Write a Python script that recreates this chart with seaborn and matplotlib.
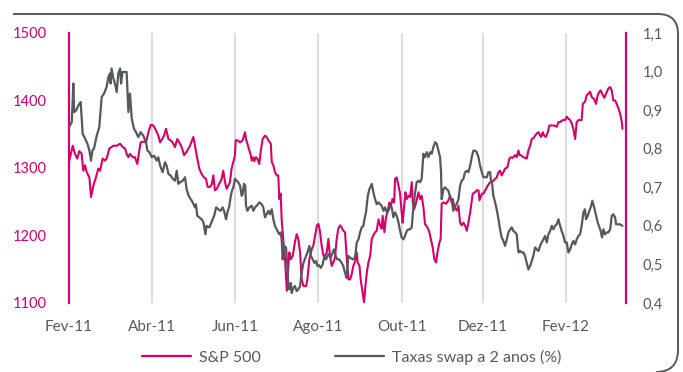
import matplotlib
matplotlib.use("Agg")
import matplotlib.pyplot as plt
from matplotlib.path import Path
from matplotlib.patches import PathPatch
from matplotlib.lines import Line2D
import pandas as pd
import seaborn as sns

# S&P 500 index, by trading session counted from the end of February 2011
spx_session = [
    0, 1.9, 3.0, 4.2, 5.2, 6.4, 7.2, 8.1, 8.9, 10.3, 11.1, 12.3, 13.6, 14.8, 15.7, 17.0,
    18.2, 19.0, 20.4, 21.5, 22.4, 24.1, 25.8, 27.1, 28.3, 29.1, 30.0, 30.8, 32.2, 33.3,
    34.5, 35.5, 36.2, 37.5, 38.9, 40.1, 41.3, 42.6, 43.9, 45.1, 46.0, 47.1, 48.0, 49.0,
    50.2, 51.4, 52.7, 53.5, 54.7, 55.7, 56.9, 58.1, 59.4, 61.1, 62.8, 63.6, 64.8, 65.8,
    67.0, 68.2, 69.2, 70.0, 71.2,
    72.1, 72.9, 73.7, 74.6, 75.4, 76.3, 77.1, 77.9, 78.8, 79.6, 80.5, 81.3, 82.1, 83.0,
    83.8, 84.2, 85.2, 86.4, 87.7, 88.9, 89.4, 90.1, 91.1, 91.8, 92.3, 93.1, 93.6, 94.4,
    95.1, 96.1, 96.8, 97.8, 99.0, 99.8, 100.7, 101.9, 102.4, 103.2, 104.0, 104.9, 105.7,
    106.2, 106.9, 107.4, 108.3, 109.1, 110.0, 110.8, 111.3, 112.0, 113.0, 114.1, 115.0,
    115.8, 116.7, 117.5, 118.4, 119.7, 120.4, 121.4, 122.6, 123.4, 124.3, 125.2, 126.0,
    126.8, 127.6, 128.5, 129.3, 130.2, 131.0, 131.8, 132.7, 133.5, 134.3, 135.2, 136.0,
    136.9, 137.7, 138.5, 139.4, 140.2, 141.1,
    142.0, 142.8, 143.6, 144.5, 145.3, 145.8, 146.7, 147.3, 148.3, 149.0, 149.7, 150.4,
    151.2, 152.1, 152.9, 153.7, 154.6, 155.4, 156.3, 157.1, 157.9, 158.4, 159.3, 160.1,
    160.8, 161.8, 162.5, 163.3, 164.2, 164.7, 165.5, 166.4, 167.2, 168.0, 168.5, 169.2,
    169.9, 170.6, 171.4, 172.3, 173.1, 173.6, 174.3, 175.3, 176.5, 177.3, 178.1, 179.0,
    179.8, 181.0, 182.0, 182.7, 183.7, 184.5, 185.4, 186.1, 187.1, 187.7, 188.2, 189.1,
    190.4, 191.6, 192.5, 193.3, 193.8, 194.5, 195.8, 196.7, 197.5, 198.3, 199.2, 200.0,
    200.9, 201.7, 202.6, 203.9, 205.1, 205.9, 206.8, 207.3, 208.5, 209.3, 210.6, 211.5,
    212.7,
    213.5, 214.3, 215.2, 216.0, 216.9, 217.7, 218.5, 219.4, 220.2, 221.4, 222.4, 223.3,
    224.1, 225.3, 226.1, 227.0, 227.5, 228.1, 229.5, 230.3, 231.2, 232.0, 232.9, 233.7,
    234.5, 235.4, 236.2, 237.1, 237.9, 238.4, 239.3, 239.9, 240.8, 241.8, 242.6, 243.8,
    245.0, 246.3, 247.2, 248.0, 249.4, 250.5, 251.4, 252.2, 253.1, 253.9, 254.7, 255.6,
    256.4, 257.3, 258.9, 259.5, 260.6, 261.5, 262.3, 263.2, 264.0, 265.2, 266.2, 267.0,
    267.9, 268.5, 269.6, 270.4, 271.2, 272.4, 273.3, 274.1, 274.9, 275.8, 276.6, 277.5,
    278.3, 279.2, 279.5,
]
spx_value = [
    1309, 1333, 1321, 1314, 1325, 1321, 1296, 1304, 1294, 1286, 1257, 1274, 1286, 1299, 1296, 1314,
    1311, 1314, 1329, 1331, 1333, 1333, 1336, 1331, 1329, 1321, 1316, 1321, 1316, 1316,
    1306, 1326, 1338, 1339, 1338, 1353, 1364, 1363, 1356, 1348, 1338, 1343, 1348, 1358,
    1343, 1341, 1336, 1331, 1343, 1338, 1331, 1319, 1324, 1333, 1346, 1333, 1314, 1299,
    1291, 1286, 1284, 1272, 1272,
    1276, 1289, 1267, 1269, 1274, 1279, 1284, 1296, 1279, 1269, 1274, 1279, 1299, 1309,
    1319, 1341, 1341, 1338, 1341, 1353, 1343, 1336, 1326, 1319, 1311, 1316, 1310, 1316,
    1314, 1306, 1324, 1343, 1348, 1346, 1341, 1336, 1309, 1304, 1294, 1289, 1289,
    1254, 1262, 1224, 1190, 1165, 1118, 1155, 1175, 1165, 1170, 1190, 1202,
    1195, 1175, 1135, 1125, 1125, 1135, 1165, 1180, 1185, 1200, 1215, 1217,
    1205, 1185, 1170, 1170, 1175, 1195, 1170, 1155, 1160, 1167, 1195, 1210,
    1215, 1212, 1207, 1205, 1170, 1135,
    1135, 1143, 1155, 1162, 1175, 1160, 1155, 1135, 1115, 1101, 1125, 1145,
    1160, 1170, 1195, 1200, 1205, 1207, 1224, 1215, 1210, 1229, 1205, 1227,
    1234, 1249, 1242, 1254, 1249, 1284, 1286, 1274, 1262, 1234, 1219, 1242,
    1264, 1254, 1259, 1257, 1279, 1249, 1239, 1249, 1264, 1254, 1259, 1242,
    1217, 1212, 1205, 1195, 1182, 1165, 1160, 1175, 1190, 1195, 1247, 1249,
    1247, 1252, 1259, 1249, 1254, 1244, 1237, 1244, 1219, 1215, 1219, 1215,
    1207, 1219, 1234, 1262, 1264, 1267, 1267, 1252, 1262, 1262, 1269, 1274,
    1279,
    1280, 1281, 1284, 1286, 1294, 1296, 1289, 1294, 1299, 1301, 1314, 1316,
    1315, 1319, 1316, 1326, 1319, 1319, 1316, 1315, 1314, 1326, 1333, 1343,
    1344, 1348, 1351, 1353, 1348, 1346, 1353, 1348, 1346, 1353, 1363, 1363,
    1363, 1361, 1368, 1368, 1371, 1371, 1376, 1373, 1371, 1366, 1358, 1343,
    1368, 1371, 1371, 1395, 1398, 1408, 1410, 1413, 1405, 1402, 1395, 1408,
    1413, 1415, 1408, 1404, 1410, 1418, 1420, 1415, 1400, 1400, 1395, 1388,
    1381, 1368, 1358,
]

# 2-year swap rate (%), same session count
swap_session = [
    0, 1.4, 2.2, 2.6, 3.6, 4.7, 5.9, 6.9, 8.1, 9.3, 10.3, 11.1, 11.8, 12.6, 14.0, 15.3,
    16.5, 17.7, 19.0, 19.9, 20.7, 21.0, 21.5, 22.4, 23.2, 24.1, 24.9, 25.8, 26.3, 27.0,
    27.8, 29.1, 30.0, 30.8, 31.7, 32.8, 33.8, 35.0, 36.2, 37.5, 38.9, 39.6, 40.6, 41.8,
    43.0, 44.3, 45.1, 46.0, 47.3, 48.5, 49.3, 50.2, 51.4, 52.4, 53.5, 54.4, 55.2, 56.1,
    57.4, 58.6, 59.4, 60.4, 61.5, 62.5, 63.6, 64.1, 64.8, 65.8, 67.0, 67.9, 68.9, 69.5,
    70.9,
    72.6, 73.3, 74.3, 75.4, 76.6, 77.6, 78.3, 79.3, 80.0, 81.0, 81.7, 82.3, 83.0, 83.8,
    84.7, 85.5, 86.4, 87.2, 87.7, 88.4, 89.0, 89.4, 90.1, 91.1, 92.3, 93.1, 94.0, 94.8,
    96.1, 97.3, 98.1, 99.0, 99.8, 100.7, 101.5, 102.4, 103.2, 104.0, 104.9, 106.2, 106.9,
    107.4, 107.9, 108.6, 109.6, 110.3, 110.8, 111.3, 112.0, 112.5, 113.3, 114.1, 115.0,
    115.8, 116.7, 117.5, 118.4, 119.7, 120.4, 121.4, 122.1, 123.1, 123.9, 124.8, 125.4,
    126.3, 127.1, 128.1, 129.0, 129.8, 131.0, 132.2, 133.2, 133.8, 134.7, 135.5, 136.5,
    137.7, 138.5, 139.4, 140.2, 141.1, 141.9,
    143.3, 144.5, 145.3, 146.2, 147.0, 147.8, 148.7, 149.2, 150.0, 150.9, 151.7, 152.9,
    153.7, 154.6, 155.4, 156.3, 157.1, 157.9, 158.8, 159.6, 160.5, 161.3, 162.2, 163.0,
    163.8, 164.7, 165.5, 166.4, 167.2, 168.0, 168.9, 169.7, 170.6, 171.4, 172.3, 173.1,
    173.9, 174.8, 175.6, 176.5, 177.3, 178.1, 179.0, 179.8, 180.7, 181.5, 182.4, 183.2,
    184.0, 184.9, 185.7, 186.6, 187.4, 187.9, 188.2, 189.1, 189.9, 190.8, 191.6, 192.5,
    193.3, 194.1, 195.0, 195.8, 196.7, 197.5, 198.3, 199.2, 200.0, 200.9, 201.7, 202.6,
    203.4, 204.2, 205.1, 205.9, 206.8, 207.6, 208.5, 209.3, 211.0, 211.8, 212.7,
    213.0, 213.7, 214.3, 215.2, 216.0, 216.9, 217.7, 218.5, 219.4, 220.2, 221.1, 221.9,
    222.8, 223.6, 224.4, 225.3, 226.1, 227.0, 227.8, 228.6, 229.5, 230.3, 231.2, 232.0,
    232.9, 233.7, 234.5, 235.4, 236.2, 237.1, 237.9, 238.7, 239.6, 240.4, 241.3, 242.1,
    243.0, 243.8, 244.6, 245.5, 246.3, 247.2, 248.0, 248.8, 249.7, 250.5, 251.4, 252.2,
    253.1, 253.9, 254.7, 255.6, 256.4, 257.3, 258.1, 258.9, 259.8, 260.6, 261.1, 262.0,
    262.8, 263.7, 264.3, 265.2, 266.2, 267.0, 267.9, 268.5, 269.2, 269.9, 270.7, 271.6,
    272.4, 273.3, 274.1, 274.9, 275.8, 276.3, 277.5, 278.3, 279.5,
]
swap_value = [
    0.856, 0.869, 0.969, 0.895, 0.899, 0.912, 0.921, 0.839, 0.826, 0.813, 0.795, 0.769, 0.795, 0.800, 0.834, 0.856,
    0.934, 0.943, 0.960, 0.986, 0.995, 0.969, 1.008, 0.982, 0.969, 0.947, 0.995, 1.008, 0.969, 0.999,
    0.999, 0.999, 0.895, 0.943, 0.878, 0.852, 0.843, 0.830, 0.843, 0.834, 0.817, 0.795, 0.791, 0.778,
    0.782, 0.769, 0.778, 0.756, 0.739, 0.765, 0.756, 0.735, 0.730, 0.722, 0.717, 0.743, 0.709, 0.713,
    0.717, 0.726, 0.695, 0.678, 0.669, 0.661, 0.648, 0.656, 0.626, 0.622, 0.617, 0.609, 0.578, 0.600,
    0.596,
    0.617, 0.626, 0.648, 0.643, 0.639, 0.648, 0.639, 0.617, 0.635, 0.652, 0.678, 0.691, 0.700, 0.722,
    0.717, 0.713, 0.704, 0.678, 0.682, 0.709, 0.704, 0.652, 0.639, 0.648, 0.652, 0.639, 0.648, 0.652,
    0.661, 0.656, 0.648, 0.622, 0.630, 0.639, 0.630, 0.643, 0.617, 0.600, 0.591, 0.578, 0.583,
    0.565, 0.513, 0.548, 0.544, 0.496, 0.444, 0.435, 0.452, 0.426, 0.439, 0.444, 0.431,
    0.435, 0.444, 0.478, 0.504, 0.522, 0.531, 0.548, 0.522, 0.513, 0.504, 0.509, 0.496,
    0.498, 0.491, 0.500, 0.522, 0.513, 0.526, 0.518, 0.531, 0.539, 0.522, 0.513, 0.513,
    0.504, 0.496, 0.478, 0.465, 0.522, 0.518,
    0.513, 0.518, 0.557, 0.565, 0.583, 0.596, 0.600, 0.617, 0.635, 0.678, 0.695, 0.709,
    0.687, 0.669, 0.656, 0.661, 0.656, 0.652, 0.639, 0.648, 0.635, 0.639, 0.652, 0.648,
    0.622, 0.635, 0.626, 0.609, 0.587, 0.570, 0.565, 0.574, 0.587, 0.591, 0.591, 0.596,
    0.648, 0.687, 0.713, 0.717, 0.713, 0.722, 0.787, 0.778, 0.791, 0.778, 0.791, 0.787,
    0.804, 0.817, 0.813, 0.795, 0.778, 0.739, 0.669, 0.695, 0.700, 0.695, 0.691, 0.674,
    0.665, 0.639, 0.652, 0.656, 0.669, 0.704, 0.717, 0.722, 0.739, 0.743, 0.739, 0.756,
    0.778, 0.795, 0.795, 0.791, 0.778, 0.756, 0.739, 0.726, 0.726, 0.739, 0.739,
    0.722, 0.709, 0.678, 0.661, 0.643, 0.617, 0.591, 0.570, 0.561, 0.548, 0.565, 0.583,
    0.591, 0.596, 0.587, 0.583, 0.578, 0.531, 0.535, 0.531, 0.531, 0.522, 0.504, 0.487,
    0.496, 0.509, 0.522, 0.544, 0.539, 0.535, 0.548, 0.557, 0.565, 0.574, 0.557, 0.578,
    0.587, 0.600, 0.591, 0.600, 0.604, 0.617, 0.600, 0.587, 0.574, 0.557, 0.557, 0.531,
    0.539, 0.552, 0.561, 0.552, 0.565, 0.574, 0.578, 0.600, 0.635, 0.643, 0.617, 0.626,
    0.639, 0.652, 0.665, 0.648, 0.626, 0.609, 0.596, 0.587, 0.570, 0.591, 0.578, 0.583,
    0.583, 0.591, 0.626, 0.630, 0.622, 0.604, 0.604, 0.604, 0.600,
]

# Axis ticks and labels
month_ticks = [0, 42, 84, 126, 168, 209, 251]
month_labels = ["Fev-11", "Abr-11", "Jun-11", "Ago-11", "Out-11", "Dez-11", "Fev-12"]
spx_ticks = [1100, 1200, 1300, 1400, 1500]
swap_ticks = [0.4, 0.5, 0.6, 0.7, 0.8, 0.9, 1.0, 1.1]
swap_tick_labels = ["0,4", "0,5", "0,6", "0,7", "0,8", "0,9", "1,0", "1,1"]
series_names = ["S&P 500", "Taxas swap a 2 anos (%)"]

MAGENTA = "#d4006c"
DARK = "#55595c"
TEXT = "#595959"
GRID = "#d9d9d9"

sns.set_theme(style="white")
plt.rcParams["font.family"] = ["Lato", "DejaVu Sans"]

spx = pd.DataFrame({"session": spx_session, "value": spx_value})
swap = pd.DataFrame({"session": swap_session, "value": swap_value})

W, H = 683, 372
fig = plt.figure(figsize=(W / 100, H / 100), dpi=100)
ax = fig.add_axes([69 / W, 1 - 303 / H, (626 - 69) / W, (303 - 33) / H])
ax2 = ax.twinx()

sns.lineplot(data=spx, x="session", y="value", ax=ax, color=MAGENTA,
             linewidth=1.5, estimator=None, sort=False, legend=False)
sns.lineplot(data=swap, x="session", y="value", ax=ax2, color=DARK,
             linewidth=1.6, estimator=None, sort=False, legend=False)

ax.set_xlim(0, 281.3)
ax.set_ylim(spx_ticks[0], spx_ticks[-1])
ax2.set_ylim(swap_ticks[0], swap_ticks[-1])

ax.set_xticks(month_ticks)
ax.set_xticklabels(month_labels)
ax.set_yticks(spx_ticks)
ax.set_yticklabels([str(t) for t in spx_ticks])
ax2.set_yticks(swap_ticks)
ax2.set_yticklabels(swap_tick_labels)

ax.set_xlabel("")
ax.set_ylabel("")
ax2.set_ylabel("")

ax.grid(False)
ax2.grid(False)
ax.xaxis.grid(True, color=GRID, linewidth=1.3)
ax.set_axisbelow(True)

ax.tick_params(axis="x", length=0, pad=12, labelsize=11, labelcolor=TEXT)
ax.tick_params(axis="y", length=0, pad=16, labelsize=10.5, labelcolor=MAGENTA)
ax2.tick_params(axis="y", length=0, pad=12, labelsize=10.5, labelcolor=TEXT)

for a in (ax, ax2):
    for side in ("top", "bottom"):
        a.spines[side].set_visible(False)
ax.spines["right"].set_visible(False)
ax2.spines["left"].set_visible(False)
ax.spines["left"].set_color(MAGENTA)
ax.spines["left"].set_linewidth(1.6)
ax2.spines["right"].set_color(MAGENTA)
ax2.spines["right"].set_linewidth(1.6)

handles = [Line2D([], [], color=MAGENTA, linewidth=1.6),
           Line2D([], [], color=DARK, linewidth=1.6)]
fig.legend(handles, series_names, loc="center", bbox_to_anchor=(0.515, 1 - 357 / H),
           ncol=2, frameon=False, fontsize=11.5, labelcolor=TEXT,
           handlelength=3.1, handletextpad=0.5, columnspacing=4.6)

# Rounded outer frame (top and right edges)
def fx(px):
    return px / W

def fy(py):
    return 1 - py / H

verts = [(fx(13), fy(14)), (fx(658), fy(14)), (fx(678), fy(14)), (fx(678), fy(34)),
         (fx(678), fy(350)), (fx(678), fy(372)), (fx(656), fy(372))]
codes = [Path.MOVETO, Path.LINETO, Path.CURVE3, Path.CURVE3,
         Path.LINETO, Path.CURVE3, Path.CURVE3]
frame = PathPatch(Path(verts, codes), transform=fig.transFigure, fill=False,
                  edgecolor=DARK, linewidth=1.4, clip_on=False)
fig.patches.append(frame)

fig.savefig("out.png", dpi=100)
